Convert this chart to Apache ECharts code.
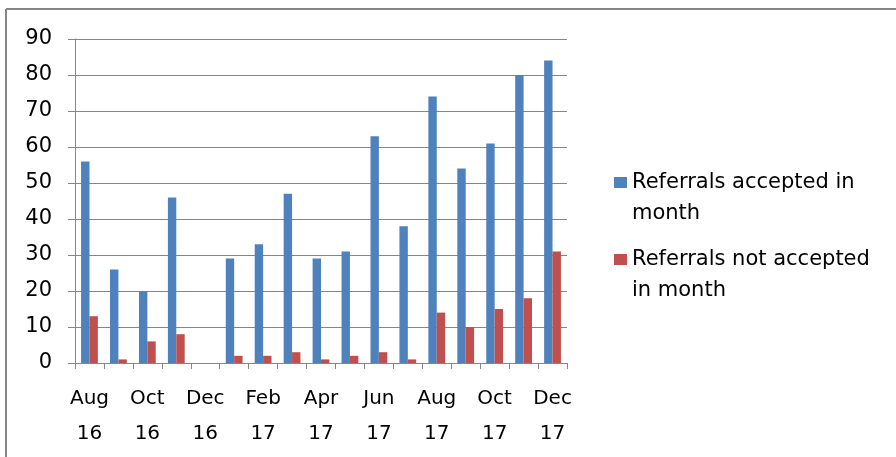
<!DOCTYPE html>
<html><head><meta charset="utf-8">
<script src="https://cdn.jsdelivr.net/npm/echarts@6/dist/echarts.min.js"></script>
<style>html,body{margin:0;padding:0;background:#fff}#c{width:896px;height:457px}</style>
</head><body><div id="c"></div>
<script>
const categories = ['Aug\n16','Sep\n16','Oct\n16','Nov\n16','Dec\n16','Jan\n17','Feb\n17','Mar\n17','Apr\n17','May\n17','Jun\n17','Jul\n17','Aug\n17','Sep\n17','Oct\n17','Nov\n17','Dec\n17'];
const accepted = [56,26,20,46,0,29,33,47,29,31,63,38,74,54,61,80,84];
const notAccepted = [13,1,6,8,0,2,2,3,1,2,3,1,14,10,15,18,31];
const seriesNames = ['Referrals accepted in month','Referrals not accepted in month'];
const legendLabels = ['Referrals accepted in\nmonth','Referrals not accepted\nin month'];
const yTicks = {min:0, max:90, interval:10};

const FONT = 'DejaVu Sans';
const chart = echarts.init(document.getElementById('c'), null, {renderer:'canvas'});
const legendCommon = {
  orient:'vertical', left:614, padding:0, itemWidth:13, itemHeight:42,
  icon:'path://M0,0L13,0L13,11L0,11Z M0,42',
  textStyle:{fontFamily:FONT, fontSize:21, color:'#000', lineHeight:31},
  formatter: n => legendLabels[seriesNames.indexOf(n)]
};
chart.setOption({
  animation:false,
  textStyle:{fontFamily:FONT},
  graphic:[
    {type:'line', shape:{x1:6,y1:9,x2:896,y2:9}, style:{stroke:'#868686', lineWidth:2}},
    {type:'line', shape:{x1:6,y1:9,x2:6,y2:457}, style:{stroke:'#868686', lineWidth:2}}
  ],
  legend:[
    Object.assign({}, legendCommon, {top:167, data:[seriesNames[0]]}),
    Object.assign({}, legendCommon, {top:244, data:[seriesNames[1]]})
  ],
  grid:{left:75, right:329, top:39, bottom:94, containLabel:false},
  xAxis:{
    type:'category', data:categories, boundaryGap:true,
    axisLine:{lineStyle:{color:'#868686', width:1}},
    axisTick:{show:true, interval:0, length:6, lineStyle:{color:'#868686'}},
    axisLabel:{interval:1, color:'#000', fontFamily:FONT, fontSize:20, lineHeight:35, margin:18}
  },
  yAxis:{
    type:'value', min:yTicks.min, max:yTicks.max, interval:yTicks.interval,
    axisLine:{show:true, lineStyle:{color:'#868686', width:1}},
    axisTick:{show:true, length:7, lineStyle:{color:'#868686'}},
    splitLine:{show:true, lineStyle:{color:'#868686', width:1}},
    axisLabel:{color:'#000', fontFamily:FONT, fontSize:21, margin:23}
  },
  series:[
    {name:seriesNames[0], type:'bar', data:accepted, itemStyle:{color:'#4F81BD'}, barGap:'0%', barCategoryGap:'42%'},
    {name:seriesNames[1], type:'bar', data:notAccepted, itemStyle:{color:'#C0504D'}, barGap:'0%', barCategoryGap:'42%'}
  ]
});
</script></body></html>
